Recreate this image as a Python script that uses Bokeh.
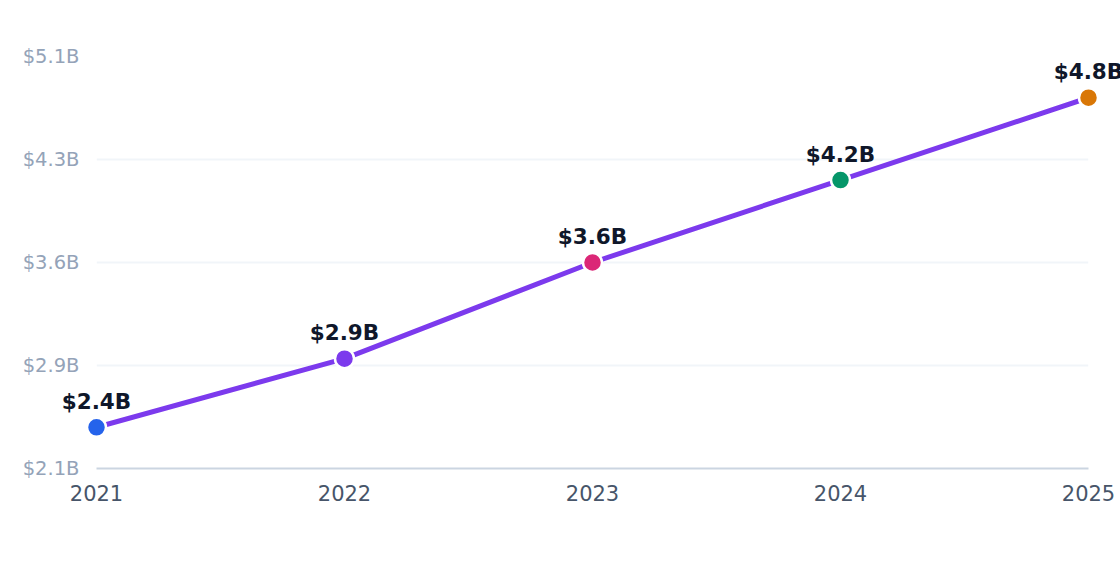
from bokeh.plotting import figure
from bokeh.models import ColumnDataSource, FixedTicker, Range1d
from bokeh.core.properties import value
from bokeh.embed import file_html
from bokeh.resources import INLINE

years = [2021, 2022, 2023, 2024, 2025]
values = [2.4, 2.9, 3.6, 4.2, 4.8]
labels = ["$2.4B", "$2.9B", "$3.6B", "$4.2B", "$4.8B"]
colors = ["#2563eb", "#7c3aed", "#db2777", "#059669", "#d97706"]
y_ticks = [2.1, 2.85, 3.6, 4.35, 5.1]
y_tick_labels = ["$2.1B", "$2.9B", "$3.6B", "$4.3B", "$5.1B"]

src = ColumnDataSource(dict(x=years, y=values, label=labels, color=colors))

p = figure(width=1120, height=556, output_backend="svg", toolbar_location=None,
           x_range=Range1d(2021, 2025), y_range=Range1d(2.1, 5.1),
           min_border_left=96, min_border_right=32, min_border_top=56, min_border_bottom=88)
p.outline_line_color = None
p.background_fill_color = "white"
p.border_fill_color = "white"

p.line("x", "y", source=src, line_color="#7c3aed", line_width=5)
p.scatter("x", "y", source=src, size=19, fill_color="color", line_color="white",
          line_width=2.5, level="overlay")

p.text("x", "y", text="label", source=src, y_offset=-26,
       text_align="center", text_baseline="alphabetic",
       text_font=value("DejaVu Sans"), text_font_style="bold",
       text_font_size="21.5px", text_color="#0f172a", level="overlay")

p.xaxis.ticker = FixedTicker(ticks=years)
p.xaxis.major_label_overrides = {y: str(y) for y in years}
p.xaxis.axis_line_color = "#cbd5e1"
p.xaxis.axis_line_width = 2
p.xaxis.major_tick_line_color = None
p.xaxis.minor_tick_line_color = None
p.xaxis.major_label_text_color = "#475569"
p.xaxis.major_label_text_font = "DejaVu Sans"
p.xaxis.major_label_text_font_size = "21px"
p.xaxis.major_label_standoff = 10

p.yaxis.ticker = FixedTicker(ticks=y_ticks)
p.yaxis.major_label_overrides = dict(zip(y_ticks, y_tick_labels))
p.yaxis.axis_line_color = None
p.yaxis.major_tick_line_color = None
p.yaxis.minor_tick_line_color = None
p.yaxis.major_label_text_color = "#94a3b8"
p.yaxis.major_label_text_font = "DejaVu Sans"
p.yaxis.major_label_text_font_size = "19.5px"
p.yaxis.major_label_standoff = 11

p.xgrid.grid_line_color = None
p.ygrid.grid_line_color = "#f1f5f9"
p.ygrid.grid_line_width = 2

open("out.html", "w").write(file_html(p, INLINE))
